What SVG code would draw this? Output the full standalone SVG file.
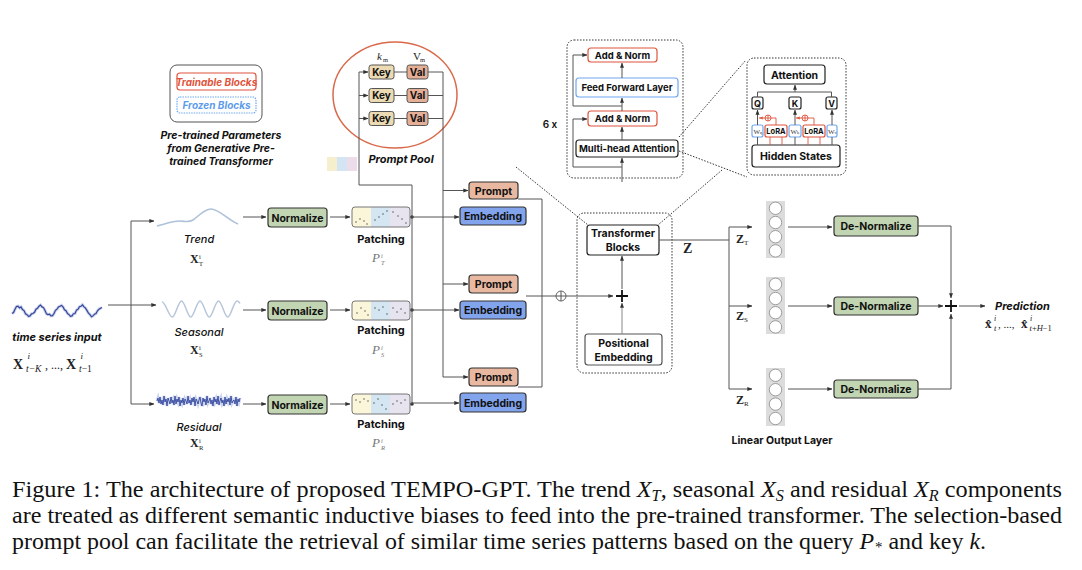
<svg xmlns="http://www.w3.org/2000/svg" width="1082" height="570" viewBox="0 0 1082 570">
<defs>
  <marker id="arr" viewBox="0 0 6 6" refX="5.6" refY="3" markerWidth="5" markerHeight="5" orient="auto" markerUnits="userSpaceOnUse">
    <path d="M0,0.6 L6,3 L0,5.4 z" fill="#333"/>
  </marker>
  <marker id="arrRed" viewBox="0 0 6 6" refX="5.6" refY="3" markerWidth="4" markerHeight="4" orient="auto" markerUnits="userSpaceOnUse">
    <path d="M0,0.6 L6,3 L0,5.4 z" fill="#E0533C"/>
  </marker>
</defs>
<style>
  .sans { font-family: Inter, "Liberation Sans", Arial, sans-serif; font-weight: 700; fill: #111; }
  .ital { font-style: italic; }
  .ser { font-family: "Liberation Serif", "DejaVu Serif", serif; fill: #222; }
  .ln { stroke: #555; stroke-width: 1; fill: none; }
  .la { stroke: #555; stroke-width: 1; fill: none; marker-end: url(#arr); }
  .dot { stroke: #333; stroke-width: 1; fill: none; stroke-dasharray: 1.5 1.5; }
  .box { stroke: #333; stroke-width: 1.2; }
  .norm { fill: #C2D5B2; }
  .emb { fill: #82A4EC; }
  .prm { fill: #E8B8A0; }
  .key { fill: #EBDAB2; stroke: #555; stroke-width: 1; }
  .val { fill: #E4AE97; stroke: #555; stroke-width: 1; }
  .red { stroke: #E0533C; stroke-width: 1.2; fill: #fff; }
  .blu { stroke: #6FA8F0; stroke-width: 1.2; fill: #fff; }
  .wht { stroke: #222; stroke-width: 1.2; fill: #fff; }
  .cap { font-family: "Liberation Serif", serif; font-size: 24px; fill: #111; }
  .pd { fill: #444; }
</style>

<!-- legend -->
<g id="legend">
  <rect x="170" y="65" width="92" height="57" rx="7" fill="#fff" stroke="#555" stroke-width="1"/>
  <rect x="177" y="73" width="79" height="17" rx="3" class="red"/>
  <text x="216.5" y="85.5" text-anchor="middle" class="sans ital" font-size="10" style="fill:#E0533C">Trainable Blocks</text>
  <rect x="177" y="97" width="79" height="16" rx="3" fill="#fff" stroke="#6FA8F0" stroke-width="1.2" stroke-dasharray="1.5 1"/>
  <text x="216.5" y="109" text-anchor="middle" class="sans ital" font-size="10" style="fill:#5E9BEA">Frozen Blocks</text>
  <text x="221" y="139" text-anchor="middle" class="sans ital" font-size="10.5">Pre-trained Parameters</text>
  <text x="221" y="152" text-anchor="middle" class="sans ital" font-size="10.5">from Generative Pre-</text>
  <text x="221" y="165" text-anchor="middle" class="sans ital" font-size="10.5">trained Transformer</text>
</g>

<!-- prompt pool -->
<g id="prompt-pool">
  <ellipse cx="395" cy="95" rx="62" ry="53" fill="none" stroke="#D9694A" stroke-width="1.5"/>
  <text x="377" y="60" class="ser ital" font-size="11">k</text>
  <text x="383" y="62" class="ser" font-size="6.5">m</text>
  <text x="413" y="60" class="ser" font-size="11">V</text>
  <text x="420" y="62" class="ser" font-size="6.5">m</text>
  <rect x="369" y="65" width="25" height="14" rx="2.5" class="key"/>
  <rect x="369" y="88.5" width="25" height="14" rx="2.5" class="key"/>
  <rect x="369" y="111.5" width="25" height="14" rx="2.5" class="key"/>
  <rect x="407" y="65" width="21" height="14" rx="2.5" class="val"/>
  <rect x="407" y="88.5" width="21" height="14" rx="2.5" class="val"/>
  <rect x="407" y="111.5" width="21" height="14" rx="2.5" class="val"/>
  <g class="sans" font-size="10" text-anchor="middle">
    <text x="381.5" y="75.5">Key</text>
    <text x="381.5" y="99">Key</text>
    <text x="381.5" y="122">Key</text>
    <text x="417.5" y="75.5">Val</text>
    <text x="417.5" y="99">Val</text>
    <text x="417.5" y="122">Val</text>
  </g>
  <text x="401" y="163" text-anchor="middle" class="sans ital" font-size="11">Prompt Pool</text>
  <!-- patch icon -->
  <rect x="327" y="157" width="10" height="14" fill="#F3EBC0" opacity="0.8"/>
  <rect x="337" y="157" width="10" height="14" fill="#C8DDF0" opacity="0.8"/>
  <rect x="347" y="157" width="10" height="14" fill="#E9D3E3" opacity="0.8"/>
</g>

<!-- input series -->
<g id="input">
  <path d="M12,313.5 L13.5,312.6 15,309.2 16.5,306.5 18,306.2 19.5,307.9 21,306.9 22.5,309.6 24,310.6 25.5,313.8 27,314.6 28.5,316.4 30,315.9 31.5,313.9 33,313.5 34.5,312.3 36,309.2 37.5,308.4 39,306.2 40.5,305 42,306.9 43.5,307.6 45,310.6 46.5,313.9 48,314.6 49.5,314.2 51,315.9 52.5,315.6 54,313.5 55.5,310.3 57,309.2 58.5,306.9 60,306.2 61.5,305.4 63,306.9 64.5,309.8 66,310.6 67.5,313.5 69,314.6 70.5,316.3 72,315.9 73.5,313.7 75,313.5 76.5,310.1 78,309.2 79.5,306.7 81,306.2 82.5,304.8 84,306.9 85.5,308.1 87,310.6 88.5,313.2 90,314.6 91.5,316.8 93,315.9 94.5,314.2 96,313.5 97.5,310.8 99,309.2 100.5,308.2 102,307.5" fill="none" stroke="#8A98CC" stroke-width="3" opacity="0.45"/>
  <path d="M12,313.5 L13.5,312.6 15,309.2 16.5,306.5 18,306.2 19.5,307.9 21,306.9 22.5,309.6 24,310.6 25.5,313.8 27,314.6 28.5,316.4 30,315.9 31.5,313.9 33,313.5 34.5,312.3 36,309.2 37.5,308.4 39,306.2 40.5,305 42,306.9 43.5,307.6 45,310.6 46.5,313.9 48,314.6 49.5,314.2 51,315.9 52.5,315.6 54,313.5 55.5,310.3 57,309.2 58.5,306.9 60,306.2 61.5,305.4 63,306.9 64.5,309.8 66,310.6 67.5,313.5 69,314.6 70.5,316.3 72,315.9 73.5,313.7 75,313.5 76.5,310.1 78,309.2 79.5,306.7 81,306.2 82.5,304.8 84,306.9 85.5,308.1 87,310.6 88.5,313.2 90,314.6 91.5,316.8 93,315.9 94.5,314.2 96,313.5 97.5,310.8 99,309.2 100.5,308.2 102,307.5" fill="none" stroke="#34479E" stroke-width="1.2"/>
  <text x="57" y="341" text-anchor="middle" class="sans ital" font-size="11">time series input</text>
  <g class="ser">
    <text x="13" y="369" font-size="14" font-weight="700">X</text>
    <text x="27.5" y="359" font-size="9" font-style="italic">i</text>
    <text x="26" y="372" font-size="9.5" font-style="italic">t−K</text>
    <text x="45" y="369" font-size="12">, ..., </text>
    <text x="66" y="369" font-size="14" font-weight="700">X</text>
    <text x="80.5" y="359" font-size="9" font-style="italic">i</text>
    <text x="79" y="372" font-size="9.5"><tspan font-style="italic">t</tspan>−1</text>
  </g>
</g>

<!-- decomposed components -->
<g id="trend">
  <path d="M157,226 C165,224 172,221 180,221 C185,221 188,223 193,220 C199,216 204,209 211,209 C219,209 228,220 238,224" fill="none" stroke="#AEC1DA" stroke-width="1.6"/>
  <text x="199" y="243" text-anchor="middle" class="sans ital" font-size="11" style="font-weight:500">Trend</text>
  <text x="190" y="263" class="ser" font-size="12" font-weight="700">X</text>
  <text x="199" y="259" class="ser" font-size="6.5">i</text>
  <text x="199" y="266" class="ser" font-size="6.5">T</text>
</g>
<g id="seasonal">
  <path d="M162,302 C165,301 168.9,317 172.25,317 C175.6,317 178.1,301 181.5,301 C184.9,301 187.4,317 190.75,317 C194.1,317 196.6,301 200,301 C203.4,301 205.9,317 209.25,317 C212.6,317 215.1,301 218.5,301 C221.9,301 224.4,317 227.75,317 C231.1,317 233.6,301 237,301 C238.5,301 239.5,302.5 240,303.5" fill="none" stroke="#B8C6DA" stroke-width="1.5"/>
  <text x="199" y="336" text-anchor="middle" class="sans ital" font-size="11" style="font-weight:500">Seasonal</text>
  <text x="190" y="354" class="ser" font-size="12" font-weight="700">X</text>
  <text x="199" y="350" class="ser" font-size="6.5">i</text>
  <text x="199" y="357" class="ser" font-size="6.5">S</text>
</g>
<g id="residual">
  <polyline points="157,401 158,398 159,403 160,397 161,404 162,400 163,405 164,396 165,402 166,399 167,406 168,398 169,401 170,404 171,397 172,403 173,400 174,405 175,396 176,404 177,399 178,402 179,397 180,406 181,400 182,403 183,398 184,405 185,399 186,401 187,404 188,396 189,403 190,400 191,405 192,398 193,402 194,397 195,406 196,399 197,401 198,404 199,400 200,397 201,403 202,406 203,398 204,402 205,399 206,405 207,396 208,403 209,401 210,398 211,404 212,400 213,406 214,397 215,402 216,399 217,404 218,396 219,405 220,401 221,398 222,403 223,400 224,406 225,397 226,404 227,399 228,402 229,398 230,405 231,396 232,403 233,401 234,400 235,404 236,397 237,406 238,399 239,402 240,398" fill="none" stroke="#8EA0D8" stroke-width="3" opacity="0.45"/>
  <polyline points="157,401 158,398 159,403 160,397 161,404 162,400 163,405 164,396 165,402 166,399 167,406 168,398 169,401 170,404 171,397 172,403 173,400 174,405 175,396 176,404 177,399 178,402 179,397 180,406 181,400 182,403 183,398 184,405 185,399 186,401 187,404 188,396 189,403 190,400 191,405 192,398 193,402 194,397 195,406 196,399 197,401 198,404 199,400 200,397 201,403 202,406 203,398 204,402 205,399 206,405 207,396 208,403 209,401 210,398 211,404 212,400 213,406 214,397 215,402 216,399 217,404 218,396 219,405 220,401 221,398 222,403 223,400 224,406 225,397 226,404 227,399 228,402 229,398 230,405 231,396 232,403 233,401 234,400 235,404 236,397 237,406 238,399 239,402 240,398" fill="none" stroke="#34479E" stroke-width="0.9"/>
  <text x="199" y="431" text-anchor="middle" class="sans ital" font-size="11" style="font-weight:500">Residual</text>
  <text x="190" y="447" class="ser" font-size="12" font-weight="700">X</text>
  <text x="199" y="443" class="ser" font-size="6.5">i</text>
  <text x="199" y="450" class="ser" font-size="6.5">R</text>
</g>

<!-- normalize blocks -->
<g id="normalize-t"><rect x="268" y="208" width="59" height="19" rx="3" class="box norm"/><text x="297.5" y="221.5" text-anchor="middle" class="sans" font-size="10.5">Normalize</text></g>
<g id="normalize-s"><rect x="268" y="301" width="59" height="19" rx="3" class="box norm"/><text x="297.5" y="314.5" text-anchor="middle" class="sans" font-size="10.5">Normalize</text></g>
<g id="normalize-r"><rect x="268" y="395" width="59" height="19" rx="3" class="box norm"/><text x="297.5" y="408.5" text-anchor="middle" class="sans" font-size="10.5">Normalize</text></g>

<!-- patching blocks -->
<g id="patching-t">
  <rect x="352" y="207" width="19" height="20" fill="#FBF6DA"/><rect x="371" y="207" width="19" height="20" fill="#D4E6F2"/><rect x="390" y="207" width="20" height="20" fill="#E8E4EF"/>
  <rect x="352" y="207" width="58" height="20" rx="3" fill="none" stroke="#777" stroke-width="1"/>
  <g class="pd"><circle cx="356" cy="222" r="0.7"/><circle cx="360" cy="219" r="0.7"/><circle cx="364" cy="221" r="0.7"/><circle cx="367" cy="224" r="0.7"/><circle cx="375" cy="220" r="0.7"/><circle cx="379" cy="217" r="0.7"/><circle cx="383" cy="214" r="0.7"/><circle cx="387" cy="211" r="0.7"/><circle cx="393" cy="212" r="0.7"/><circle cx="398" cy="216" r="0.7"/><circle cx="402" cy="219" r="0.7"/><circle cx="406" cy="223" r="0.7"/></g>
  <text x="381" y="243" text-anchor="middle" class="sans" font-size="11">Patching</text>
  <text x="372" y="262" class="ser ital" font-size="13" style="fill:#777">P</text>
  <text x="381" y="258" class="ser ital" font-size="6.5" style="fill:#777">i</text>
  <text x="381" y="265" class="ser ital" font-size="6.5" style="fill:#777">T</text>
</g>
<g id="patching-s">
  <rect x="352" y="301" width="19" height="19" fill="#FBF6DA"/><rect x="371" y="301" width="19" height="19" fill="#D4E6F2"/><rect x="390" y="301" width="20" height="19" fill="#E8E4EF"/>
  <rect x="352" y="301" width="58" height="19" rx="3" fill="none" stroke="#777" stroke-width="1"/>
  <g class="pd"><circle cx="357" cy="313" r="0.7"/><circle cx="361" cy="308" r="0.7"/><circle cx="365" cy="311" r="0.7"/><circle cx="368" cy="315" r="0.7"/><circle cx="375" cy="308" r="0.7"/><circle cx="379" cy="310" r="0.7"/><circle cx="383" cy="307" r="0.7"/><circle cx="387" cy="314" r="0.7"/><circle cx="393" cy="308" r="0.7"/><circle cx="397" cy="312" r="0.7"/><circle cx="401" cy="309" r="0.7"/><circle cx="405" cy="313" r="0.7"/></g>
  <text x="381" y="334" text-anchor="middle" class="sans" font-size="11">Patching</text>
  <text x="372" y="354" class="ser ital" font-size="13" style="fill:#777">P</text>
  <text x="381" y="350" class="ser ital" font-size="6.5" style="fill:#777">i</text>
  <text x="381" y="357" class="ser ital" font-size="6.5" style="fill:#777">S</text>
</g>
<g id="patching-r">
  <rect x="352" y="394" width="19" height="20" fill="#FBF6DA"/><rect x="371" y="394" width="19" height="20" fill="#D4E6F2"/><rect x="390" y="394" width="20" height="20" fill="#E8E4EF"/>
  <rect x="352" y="394" width="58" height="20" rx="3" fill="none" stroke="#777" stroke-width="1"/>
  <g class="pd"><circle cx="356" cy="400" r="0.7"/><circle cx="360" cy="402" r="0.7"/><circle cx="364" cy="399" r="0.7"/><circle cx="368" cy="401" r="0.7"/><circle cx="374" cy="403" r="0.7"/><circle cx="378" cy="399" r="0.7"/><circle cx="382" cy="405" r="0.7"/><circle cx="386" cy="409" r="0.7"/><circle cx="393" cy="404" r="0.7"/><circle cx="397" cy="401" r="0.7"/><circle cx="401" cy="403" r="0.7"/><circle cx="405" cy="400" r="0.7"/></g>
  <text x="381" y="428" text-anchor="middle" class="sans" font-size="11">Patching</text>
  <text x="372" y="447" class="ser ital" font-size="13" style="fill:#777">P</text>
  <text x="381" y="443" class="ser ital" font-size="6.5" style="fill:#777">i</text>
  <text x="381" y="450" class="ser ital" font-size="6.5" style="fill:#777">R</text>
</g>

<!-- prompt and embedding blocks -->
<g id="prompt-t"><rect x="469" y="182" width="49" height="17" rx="3" class="box prm"/><text x="493.5" y="194.5" text-anchor="middle" class="sans" font-size="10.5">Prompt</text></g>
<g id="embedding-t"><rect x="460" y="207" width="66" height="18" rx="3" class="box emb"/><text x="493" y="220" text-anchor="middle" class="sans" font-size="10.5">Embedding</text></g>
<g id="prompt-s"><rect x="469" y="275" width="49" height="18" rx="3" class="box prm"/><text x="493.5" y="288" text-anchor="middle" class="sans" font-size="10.5">Prompt</text></g>
<g id="embedding-s"><rect x="460" y="301" width="66" height="18" rx="3" class="box emb"/><text x="493" y="314" text-anchor="middle" class="sans" font-size="10.5">Embedding</text></g>
<g id="prompt-r"><rect x="469" y="368" width="49" height="18" rx="3" class="box prm"/><text x="493.5" y="381" text-anchor="middle" class="sans" font-size="10.5">Prompt</text></g>
<g id="embedding-r"><rect x="460" y="393" width="66" height="19" rx="3" class="box emb"/><text x="493" y="406.5" text-anchor="middle" class="sans" font-size="10.5">Embedding</text></g>

<!-- transformer layer expansion -->
<g id="transformer-layer">
  <rect x="567" y="40" width="116" height="138" rx="7" class="dot"/>
  <rect x="588" y="48" width="69" height="14" rx="3" class="red"/>
  <text x="622.5" y="58.5" text-anchor="middle" class="sans" font-size="9.5">Add &amp; Norm</text>
  <rect x="576" y="78" width="102" height="19" rx="3" class="blu"/>
  <text x="627" y="91" text-anchor="middle" class="sans" font-size="9.5">Feed Forward Layer</text>
  <rect x="588" y="111" width="69" height="15" rx="3" class="red"/>
  <text x="622.5" y="122" text-anchor="middle" class="sans" font-size="9.5">Add &amp; Norm</text>
  <rect x="576" y="140" width="102" height="17" rx="3" class="wht"/>
  <text x="627" y="152" text-anchor="middle" class="sans" font-size="9.5">Multi-head Attention</text>
  <text x="550" y="128" text-anchor="middle" class="sans" font-size="10" style="font-weight:600">6 x</text>
</g>

<!-- attention expansion -->
<g id="attention-detail">
  <rect x="747" y="58" width="99" height="117" rx="7" class="dot"/>
  <rect x="764" y="65" width="61" height="19" rx="3" class="wht"/>
  <text x="794.5" y="78.5" text-anchor="middle" class="sans" font-size="10.5">Attention</text>
  <rect x="752" y="97" width="11" height="12" rx="2" class="wht"/>
  <rect x="789" y="97" width="12" height="12" rx="2" class="wht"/>
  <rect x="826" y="97" width="11" height="12" rx="2" class="wht"/>
  <g class="sans" font-size="9" text-anchor="middle">
    <text x="757.5" y="106.5">Q</text><text x="795" y="106.5">K</text><text x="831.5" y="106.5">V</text>
  </g>
  <rect x="752" y="125" width="11" height="12" rx="2" class="blu"/>
  <rect x="765" y="125" width="22" height="12" rx="2" class="red"/>
  <rect x="789" y="125" width="12" height="12" rx="2" class="blu"/>
  <rect x="803" y="125" width="22" height="12" rx="2" class="red"/>
  <rect x="827" y="125" width="10" height="12" rx="2" class="blu"/>
  <g class="ser" font-size="7" style="fill:#333">
    <text x="753.5" y="134">W<tspan font-size="4.5">q</tspan></text>
    <text x="790.5" y="134">W<tspan font-size="4.5">k</tspan></text>
    <text x="828" y="134">W<tspan font-size="4.5">v</tspan></text>
  </g>
  <g class="sans" font-size="7.5" text-anchor="middle">
    <text x="776" y="134">LoRA</text><text x="814" y="134">LoRA</text>
  </g>
  <rect x="752" y="145" width="88" height="22" rx="3" class="wht"/>
  <text x="796" y="160" text-anchor="middle" class="sans" font-size="10.5">Hidden States</text>
  <!-- LoRA update paths -->
  <g stroke="#E0533C" stroke-width="0.9" fill="none">
    <circle cx="768" cy="118" r="3"/><path d="M765,118 H771 M768,115 V121"/>
    <circle cx="805" cy="118" r="3"/><path d="M802,118 H808 M805,115 V121"/>
    <path d="M776,125 V118 H771"/><path d="M814,125 V118 H808"/>
    <path d="M765,118 H759" marker-end="url(#arrRed)"/><path d="M802,118 H796" marker-end="url(#arrRed)"/>
    <path d="M770,137 V145 M782,137 V145 M808,137 V145 M820,137 V145"/>
  </g>
  <g class="ln">
    <path d="M757.5,97 V92 H831.5 V97"/>
    <path d="M757.5,145 V137 M795,145 V137 M832,145 V137"/>
  </g>
  <g class="la">
    <path d="M795,92 V85"/>
    <path d="M757.5,125 V110"/><path d="M795,125 V110"/><path d="M832,125 V110"/>
  </g>
</g>

<!-- transformer backbone -->
<g id="backbone">
  <rect x="577" y="213" width="95" height="160" rx="7" class="dot"/>
  <rect x="587" y="225" width="72" height="30" rx="3" class="wht"/>
  <text x="623" y="237" text-anchor="middle" class="sans" font-size="10.5">Transformer</text>
  <text x="623" y="250.5" text-anchor="middle" class="sans" font-size="10.5">Blocks</text>
  <rect x="585" y="334" width="77" height="31" rx="3" class="wht" style="stroke:#555"/>
  <text x="623.5" y="347" text-anchor="middle" class="sans" font-size="10.5">Positional</text>
  <text x="623.5" y="360.5" text-anchor="middle" class="sans" font-size="10.5">Embedding</text>
  <path d="M616,296 H628 M622,290 V302" stroke="#111" stroke-width="1.8"/>
</g>

<!-- output heads -->
<g id="linear-t">
  <rect x="766" y="201" width="19" height="57" fill="#DCDCDC"/>
  <g fill="#fff" stroke="#888" stroke-width="0.8"><circle cx="775.5" cy="208.3" r="6.2"/><circle cx="775.5" cy="222.5" r="6.2"/><circle cx="775.5" cy="236.7" r="6.2"/><circle cx="775.5" cy="250.9" r="6.2"/></g>
</g>
<g id="linear-s">
  <rect x="766" y="277" width="19" height="57" fill="#DCDCDC"/>
  <g fill="#fff" stroke="#888" stroke-width="0.8"><circle cx="775.5" cy="284.3" r="6.2"/><circle cx="775.5" cy="298.5" r="6.2"/><circle cx="775.5" cy="312.7" r="6.2"/><circle cx="775.5" cy="326.9" r="6.2"/></g>
</g>
<g id="linear-r">
  <rect x="766" y="368" width="19" height="58" fill="#DCDCDC"/>
  <g fill="#fff" stroke="#888" stroke-width="0.8"><circle cx="775.5" cy="375.3" r="6.2"/><circle cx="775.5" cy="389.7" r="6.2"/><circle cx="775.5" cy="404.1" r="6.2"/><circle cx="775.5" cy="418.5" r="6.2"/></g>
  <text x="782" y="444" text-anchor="middle" class="sans" font-size="10.5">Linear Output Layer</text>
</g>
<g id="denorm-t"><rect x="834" y="216" width="84" height="20" rx="3" class="box norm"/><text x="876" y="229.5" text-anchor="middle" class="sans" font-size="10.5">De-Normalize</text></g>
<g id="denorm-s"><rect x="834" y="297" width="84" height="18" rx="3" class="box norm"/><text x="876" y="309.5" text-anchor="middle" class="sans" font-size="10.5">De-Normalize</text></g>
<g id="denorm-r"><rect x="834" y="380" width="84" height="18" rx="3" class="box norm"/><text x="876" y="392.5" text-anchor="middle" class="sans" font-size="10.5">De-Normalize</text></g>

<g id="prediction">
  <path d="M945,306 H957 M951,300 V312" stroke="#111" stroke-width="1.8"/>
  <text x="995" y="310" class="sans ital" font-size="11">Prediction</text>
  <g class="ser">
    <text x="985" y="328" font-size="13" font-weight="700">x&#x302;</text>
    <text x="994" y="320.5" font-size="8" font-style="italic">i</text>
    <text x="994" y="331" font-size="8.5" font-style="italic">t</text>
    <text x="998" y="328" font-size="11">, ..., </text>
    <text x="1021" y="328" font-size="13" font-weight="700">x&#x302;</text>
    <text x="1030" y="320.5" font-size="8" font-style="italic">i</text>
    <text x="1029.5" y="331" font-size="8.5"><tspan font-style="italic">t</tspan>+<tspan font-style="italic">H</tspan>−1</text>
  </g>
</g>

<!-- labels on the output branch -->
<g id="z-labels" class="ser">
  <text x="683" y="253" font-size="14" font-weight="700">Z</text>
  <text x="736" y="243" font-size="12" font-weight="700">Z</text><text x="744" y="245" font-size="7">T</text>
  <text x="736" y="320" font-size="12" font-weight="700">Z</text><text x="744" y="322" font-size="7">S</text>
  <text x="736" y="404" font-size="12" font-weight="700">Z</text><text x="744" y="406" font-size="7">R</text>
</g>

<!-- connectors -->
<g id="connectors">
  <!-- decomposition -->
  <path class="la" d="M108,305 H156"/>
  <path class="ln" d="M131,221 V404"/>
  <path class="la" d="M131,221 H154"/>
  <path class="la" d="M131,404 H154"/>
  <path class="la" d="M243,217 H266"/>
  <path class="la" d="M243,310 H266"/>
  <path class="la" d="M243,404 H266"/>
  <path class="la" d="M330,217 H350"/>
  <path class="la" d="M330,310 H350"/>
  <path class="la" d="M330,404 H350"/>
  <!-- queries to prompt pool -->
  <circle cx="412" cy="217" r="1.8" fill="#333"/>
  <circle cx="412" cy="310" r="1.8" fill="#333"/>
  <circle cx="412" cy="404" r="1.8" fill="#333"/>
  <path class="ln" d="M412,404 V185 H359 V72"/>
  <path class="la" d="M359,72 H368"/>
  <path class="la" d="M359,95.5 H368"/>
  <path class="la" d="M359,118.5 H368"/>
  <path class="ln" d="M394,72 H407 M394,95.5 H407 M394,118.5 H407"/>
  <path class="ln" d="M428,72 H443 M428,95.5 H443 M428,118.5 H443 M443,72 V377"/>
  <path class="la" d="M443,190.5 H468"/>
  <path class="la" d="M443,284 H468"/>
  <path class="la" d="M443,377 H468"/>
  <path class="la" d="M412,217 H459"/>
  <path class="la" d="M412,310 H459"/>
  <path class="la" d="M412,403 H459"/>
  <!-- concatenation into the backbone -->
  <path class="ln" d="M518,199 H542 V387 H518"/>
  <path class="ln" d="M526,296 H556"/>
  <circle cx="561" cy="296" r="5" fill="#fff" stroke="#555" stroke-width="0.9"/>
  <path class="ln" d="M556,296 H566 M561,291 V301" stroke-width="0.8"/>
  <path class="la" d="M566,296 H613"/>
  <path class="la" d="M622,289 V256"/>
  <path class="la" style="stroke:#888" d="M622,334 V303"/>
  <!-- layer internals -->
  <path class="la" d="M622,182 V158"/>
  <path class="la" d="M622,140 V127"/>
  <path class="la" d="M622,111 V98"/>
  <path class="la" d="M622,78 V63"/>
  <path class="la" d="M622,167 H573 V119 H587"/>
  <path class="la" d="M622,106 H573 V55 H587"/>
  <!-- zoom guides -->
  <path class="dot" d="M679,137 L746,60"/>
  <path class="dot" d="M679,151 L747,177"/>
  <path class="dot" d="M516,167 L588,225"/>
  <path class="dot" d="M722,170 L658,225"/>
  <!-- output branch -->
  <path class="ln" d="M659,240 H729 M729,227 V389"/>
  <path class="la" d="M729,227 H752"/>
  <path class="la" d="M729,306 H752"/>
  <path class="la" d="M729,389 H752"/>
  <path class="la" d="M788,227 H832"/>
  <path class="la" d="M788,306 H832"/>
  <path class="la" d="M788,389 H832"/>
  <path class="la" d="M918,226 H951 V298"/>
  <path class="la" d="M918,306 H943"/>
  <path class="la" d="M918,389 H951 V314"/>
  <path class="la" d="M959,306 H985"/>
</g>

<!-- caption -->
<g id="caption">
  <text x="12" y="497" class="cap" textLength="1050" lengthAdjust="spacingAndGlyphs">Figure 1: The architecture of proposed TEMPO-GPT. The trend <tspan font-style="italic">X</tspan><tspan font-size="16" font-style="italic" dy="4">T</tspan><tspan dy="-4">, seasonal </tspan><tspan font-style="italic">X</tspan><tspan font-size="16" font-style="italic" dy="4">S</tspan><tspan dy="-4"> and residual </tspan><tspan font-style="italic">X</tspan><tspan font-size="16" font-style="italic" dy="4">R</tspan><tspan dy="-4"> components</tspan></text>
  <text x="12" y="523" class="cap" textLength="1050" lengthAdjust="spacingAndGlyphs">are treated as different semantic inductive biases to feed into the pre-trained transformer. The selection-based</text>
  <text x="12" y="549" class="cap" textLength="974" lengthAdjust="spacingAndGlyphs">prompt pool can facilitate the retrieval of similar time series patterns based on the query <tspan font-style="italic">P</tspan><tspan font-size="15" dx="1" dy="3">*</tspan><tspan dy="-3"> and key </tspan><tspan font-style="italic">k</tspan>.</text>
</g>
</svg>
